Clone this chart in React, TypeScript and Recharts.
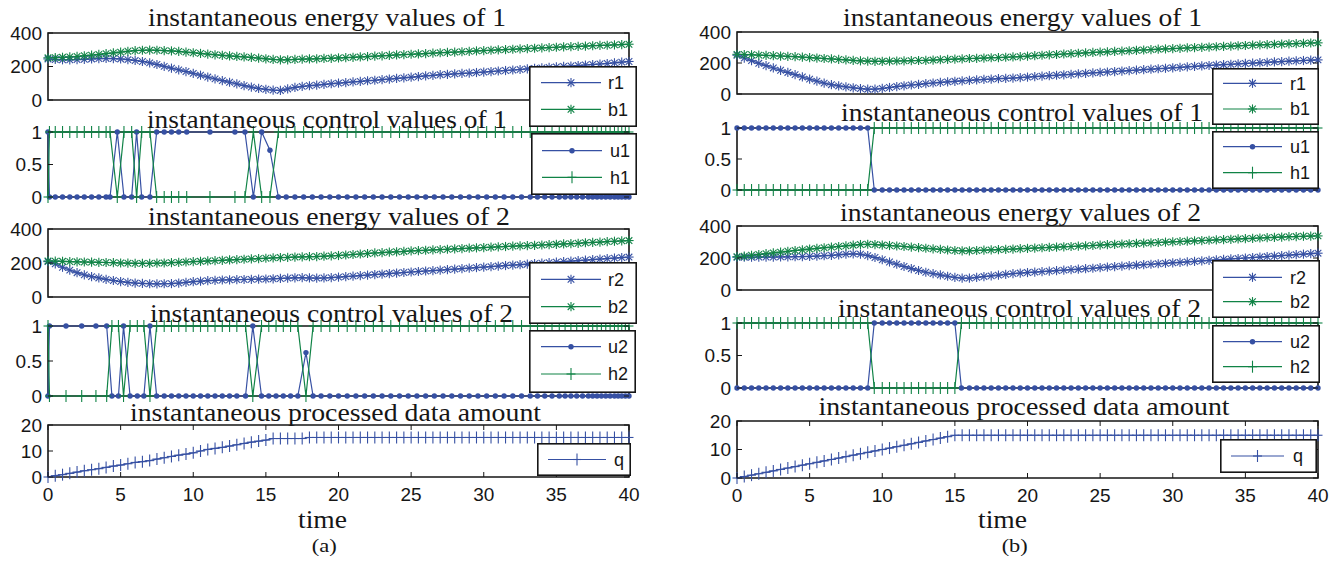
import React from 'react';
import { LineChart, Line, XAxis, YAxis, ReferenceArea } from 'recharts';

const BLUE = '#3650a3';
const GREEN = '#108346';
const INK = '#161616';
const SANS = '"Liberation Sans", Arial, Helvetica, sans-serif';
const SERIF = '"Liberation Serif", "Times New Roman", serif';

// ---------- time axis for energy / data amount panels ----------
const ET = [
  0, 0.5, 1, 1.5, 2, 2.5, 3, 3.5, 4, 4.5,
  5, 5.5, 6, 6.5, 7, 7.5, 8, 8.5, 9, 9.5,
  10, 10.5, 11, 11.5, 12, 12.5, 13, 13.5, 14, 14.5,
  15, 15.5, 16, 16.5, 17, 17.5, 18, 18.5, 19, 19.5,
  20, 20.5, 21, 21.5, 22, 22.5, 23, 23.5, 24, 24.5,
  25, 25.5, 26, 26.5, 27, 27.5, 28, 28.5, 29, 29.5,
  30, 30.5, 31, 31.5, 32, 32.5, 33, 33.5, 34, 34.5,
  35, 35.5, 36, 36.5, 37, 37.5, 38, 38.5, 39, 39.5,
  40,
];

// ---------- (a) energy of 1 ----------
const A_R1 = [
  245, 242, 240, 240, 241, 243, 245, 247, 248, 247,
  245, 241, 236, 230, 222, 212, 201, 190, 180, 170,
  159, 148, 137, 126, 116, 106, 96, 86, 77, 69,
  64, 59, 57, 66, 75, 81, 85, 89, 93, 97,
  101, 104, 108, 111, 115, 118, 122, 125, 129, 132,
  136, 140, 144, 147, 151, 153, 156, 159, 161, 164,
  167, 170, 173, 176, 179, 182, 186, 189, 192, 195,
  198, 201, 203, 206, 209, 212, 215, 218, 222, 226,
  230,
];
const A_B1 = [
  252, 253, 255, 257, 260, 264, 268, 272, 277, 281,
  286, 291, 295, 297, 298, 297, 295, 293, 290, 286,
  282, 278, 274, 270, 267, 263, 260, 257, 254, 250,
  246, 242, 240, 240, 242, 244, 245, 246, 248, 249,
  251, 253, 255, 257, 259, 262, 264, 266, 269, 271,
  273, 275, 277, 280, 282, 284, 286, 288, 290, 293,
  295, 297, 299, 301, 303, 305, 307, 309, 311, 313,
  315, 317, 319, 320, 322, 324, 326, 327, 329, 331,
  333,
];
// ---------- (a) energy of 2 ----------
const A_R2 = [
  208, 195, 175, 158, 143, 130, 120, 112, 104, 97,
  91, 86, 82, 80, 78, 77, 78, 79, 82, 86,
  90, 93, 96, 98, 100, 101, 102, 103, 104, 105,
  106, 107, 109, 111, 113, 114, 112, 111, 112, 114,
  117, 120, 123, 126, 129, 132, 135, 138, 141, 144,
  147, 150, 153, 155, 158, 161, 164, 167, 170, 173,
  176, 179, 182, 185, 188, 190, 193, 196, 199, 202,
  205, 208, 211, 214, 217, 220, 223, 226, 229, 232,
  235,
];
const A_B2 = [
  212, 211, 210, 208, 207, 206, 205, 204, 203, 202,
  200, 199, 198, 198, 198, 199, 200, 202, 204, 206,
  208, 210, 212, 214, 216, 218, 220, 222, 224, 226,
  228, 230, 232, 233, 235, 236, 237, 238, 240, 242,
  244, 247, 250, 253, 256, 259, 261, 264, 266, 268,
  271, 273, 275, 277, 279, 281, 283, 285, 287, 289,
  291, 293, 295, 297, 299, 301, 302, 304, 306, 308,
  310, 312, 314, 316, 319, 321, 323, 326, 328, 330,
  332,
];
// ---------- (a) control of 1 ----------
const A_C1T = [
  0, 0.1, 0.5, 1, 1.5, 2, 2.5, 3, 3.5, 4,
  4.27, 4.77, 5.23, 5.76, 6.1, 6.45, 7.02, 7.48, 8, 8.5,
  9, 9.55, 11.15, 12.87, 13.56, 14.14, 14.71, 15.28, 15.86, 16.4,
  17, 17.6, 18.2, 18.8, 19.4, 20, 20.6, 21.2, 21.8, 22.4,
  23, 23.6, 24.2, 24.8, 25.4, 26, 26.6, 27.2, 27.8, 28.4,
  29, 29.6, 30.2, 30.8, 31.4, 32, 32.6, 33.2, 33.7, 34.2,
  34.7, 35.2, 35.6, 36, 36.4, 36.8, 37.2, 37.5, 37.8, 38.1,
  38.4, 38.7, 39, 39.25, 39.5, 39.75, 40,
];
const A_U1 = [
  1, 0, 0, 0, 0, 0, 0, 0, 0, 0,
  0, 1, 0, 0, 1, 0, 0, 1, 1, 1,
  1, 1, 1, 1, 1, 0, 1, 0.72, 0, 0,
  0, 0, 0, 0, 0, 0, 0, 0, 0, 0,
  0, 0, 0, 0, 0, 0, 0, 0, 0, 0,
  0, 0, 0, 0, 0, 0, 0, 0, 0, 0,
  0, 0, 0, 0, 0, 0, 0, 0, 0, 0,
  0, 0, 0, 0, 0, 0, 0,
];
const A_H1 = [
  0, 1, 1, 1, 1, 1, 1, 1, 1, 1,
  1, 0, 1, 1, 0, 1, 1, 0, 0, 0,
  0, 0, 0, 0, 0, 1, 0, 0, 1, 1,
  1, 1, 1, 1, 1, 1, 1, 1, 1, 1,
  1, 1, 1, 1, 1, 1, 1, 1, 1, 1,
  1, 1, 1, 1, 1, 1, 1, 1, 1, 1,
  1, 1, 1, 1, 1, 1, 1, 1, 1, 1,
  1, 1, 1, 1, 1, 1, 1,
];
// ---------- (a) control of 2 ----------
const A_C2T = [
  0, 0.1, 1.24, 2.32, 3.3, 4.04, 4.4, 4.85, 5.2, 5.65,
  6.15, 6.6, 7.02, 7.48, 8, 8.5, 9, 9.5, 10, 10.5,
  11, 11.5, 12, 12.5, 13, 13.6, 14.1, 14.7, 15.2, 15.7,
  16.2, 16.7, 17.2, 17.76, 18.25, 18.8, 19.4, 20, 20.6, 21.2,
  21.8, 22.4, 23, 23.6, 24.2, 24.8, 25.4, 26, 26.6, 27.2,
  27.8, 28.4, 29, 29.6, 30.2, 30.8, 31.4, 32, 32.6, 33.2,
  33.7, 34.2, 34.7, 35.2, 35.6, 36, 36.4, 36.8, 37.2, 37.5,
  37.8, 38.1, 38.4, 38.7, 39, 39.25, 39.5, 39.75, 40,
];
const A_U2 = [
  0, 1, 1, 1, 1, 1, 0, 0, 1, 0,
  0, 0, 1, 0, 0, 0, 0, 0, 0, 0,
  0, 0, 0, 0, 0, 0, 1, 0, 0, 0,
  0, 0, 0, 0.62, 0, 0, 0, 0, 0, 0,
  0, 0, 0, 0, 0, 0, 0, 0, 0, 0,
  0, 0, 0, 0, 0, 0, 0, 0, 0, 0,
  0, 0, 0, 0, 0, 0, 0, 0, 0, 0,
  0, 0, 0, 0, 0, 0, 0, 0, 0,
];
const A_H2 = [
  1, 0, 0, 0, 0, 0, 1, 1, 0, 1,
  1, 1, 0, 1, 1, 1, 1, 1, 1, 1,
  1, 1, 1, 1, 1, 1, 0, 1, 1, 1,
  1, 1, 1, 0, 1, 1, 1, 1, 1, 1,
  1, 1, 1, 1, 1, 1, 1, 1, 1, 1,
  1, 1, 1, 1, 1, 1, 1, 1, 1, 1,
  1, 1, 1, 1, 1, 1, 1, 1, 1, 1,
  1, 1, 1, 1, 1, 1, 1, 1, 1,
];
// ---------- (a) processed data ----------
const A_Q = [
  0, 0.5, 0.9, 1.4, 1.9, 2.4, 2.8, 3.2, 3.7, 4.2,
  4.6, 5.1, 5.6, 5.9, 6.3, 6.9, 7.4, 7.9, 8.4, 8.8,
  9.3, 10.0, 10.6, 11.0, 11.4, 11.9, 12.4, 12.9, 13.4, 13.8,
  14.2, 14.8, 14.8, 14.8, 14.8, 14.8, 15.2, 15.2, 15.2, 15.2,
  15.2, 15.2, 15.2, 15.2, 15.2, 15.2, 15.2, 15.2, 15.2, 15.2,
  15.2, 15.2, 15.2, 15.2, 15.2, 15.2, 15.2, 15.2, 15.2, 15.2,
  15.2, 15.2, 15.2, 15.2, 15.2, 15.2, 15.2, 15.2, 15.2, 15.2,
  15.2, 15.2, 15.2, 15.2, 15.2, 15.2, 15.2, 15.2, 15.2, 15.2,
  15.2,
];

// ---------- (b) energy of 1 ----------
const B_R1 = [
  250, 232, 215, 198, 183, 168, 153, 139, 125, 110,
  96, 83, 70, 60, 52, 46, 40, 35, 31, 31,
  36, 42, 48, 53, 58, 62, 67, 71, 75, 78,
  82, 85, 88, 91, 94, 96, 99, 101, 103, 106,
  109, 112, 115, 118, 121, 124, 127, 130, 133, 136,
  139, 142, 145, 148, 151, 154, 157, 160, 163, 166,
  169, 172, 175, 178, 181, 184, 187, 189, 192, 194,
  197, 199, 202, 204, 207, 209, 212, 214, 216, 218,
  220,
];
const B_B1 = [
  256, 255, 253, 251, 249, 247, 245, 243, 241, 238,
  235, 232, 229, 226, 223, 220, 217, 214, 212, 211,
  211, 212, 213, 214, 215, 216, 217, 219, 221, 223,
  225, 227, 229, 230, 232, 234, 235, 237, 239, 241,
  244, 247, 250, 253, 255, 258, 260, 263, 265, 268,
  270, 272, 275, 277, 279, 282, 284, 286, 289, 291,
  293, 295, 297, 299, 301, 303, 305, 307, 309, 311,
  313, 315, 317, 318, 320, 322, 324, 325, 327, 329,
  330,
];
// ---------- (b) energy of 2 ----------
const B_R2 = [
  205, 205, 205, 206, 206, 206, 207, 207, 208, 209,
  210, 212, 214, 217, 220, 224, 226, 224, 215, 203,
  189, 175, 161, 147, 134, 122, 111, 102, 94, 86,
  79, 74, 74, 79, 84, 88, 93, 98, 102, 106,
  109, 112, 115, 118, 121, 124, 127, 130, 133, 136,
  140, 143, 146, 149, 152, 155, 158, 161, 164, 167,
  170, 173, 176, 179, 182, 185, 188, 191, 194, 197,
  200, 203, 206, 209, 212, 215, 218, 221, 224, 227,
  230,
];
const B_B2 = [
  208, 212, 217, 222, 227, 232, 237, 242, 247, 251,
  256, 260, 264, 268, 272, 276, 280, 284, 286, 284,
  281, 278, 275, 272, 268, 265, 261, 257, 254, 250,
  247, 245, 245, 247, 249, 251, 252, 254, 256, 258,
  260, 262, 264, 266, 268, 270, 272, 274, 276, 278,
  281, 283, 285, 287, 289, 291, 293, 295, 297, 299,
  301, 303, 305, 307, 309, 311, 313, 315, 317, 319,
  321, 323, 325, 327, 329, 331, 333, 334, 336, 337,
  338,
];
// ---------- (b) control of 1 ----------
const B_C1T = [
  0, 0.5, 1, 1.5, 2, 2.5, 3, 3.5, 4, 4.5,
  5, 5.5, 6, 6.5, 7, 7.5, 8, 8.5, 9, 9.45,
  10, 10.5, 11, 11.5, 12, 12.5, 13, 13.5, 14, 14.5,
  15, 15.5, 16, 16.5, 17, 17.5, 18, 18.5, 19, 19.5,
  20, 20.5, 21, 21.5, 22, 22.5, 23, 23.5, 24, 24.5,
  25, 25.5, 26, 26.5, 27, 27.5, 28, 28.5, 29, 29.5,
  30, 30.5, 31, 31.5, 32, 32.5, 33, 33.5, 34, 34.5,
  35, 35.5, 36, 36.5, 37, 37.5, 38, 38.5, 39, 39.5,
  40,
];
const B_U1 = [
  1, 1, 1, 1, 1, 1, 1, 1, 1, 1,
  1, 1, 1, 1, 1, 1, 1, 1, 1, 0,
  0, 0, 0, 0, 0, 0, 0, 0, 0, 0,
  0, 0, 0, 0, 0, 0, 0, 0, 0, 0,
  0, 0, 0, 0, 0, 0, 0, 0, 0, 0,
  0, 0, 0, 0, 0, 0, 0, 0, 0, 0,
  0, 0, 0, 0, 0, 0, 0, 0, 0, 0,
  0, 0, 0, 0, 0, 0, 0, 0, 0, 0,
  0,
];
const B_H1 = [
  0, 0, 0, 0, 0, 0, 0, 0, 0, 0,
  0, 0, 0, 0, 0, 0, 0, 0, 0, 1,
  1, 1, 1, 1, 1, 1, 1, 1, 1, 1,
  1, 1, 1, 1, 1, 1, 1, 1, 1, 1,
  1, 1, 1, 1, 1, 1, 1, 1, 1, 1,
  1, 1, 1, 1, 1, 1, 1, 1, 1, 1,
  1, 1, 1, 1, 1, 1, 1, 1, 1, 1,
  1, 1, 1, 1, 1, 1, 1, 1, 1, 1,
  1,
];
// ---------- (b) control of 2 ----------
const B_C2T = [
  0, 0.5, 1, 1.5, 2, 2.5, 3, 3.5, 4, 4.5,
  5, 5.5, 6, 6.5, 7, 7.5, 8, 8.5, 9, 9.45,
  10, 10.5, 11, 11.5, 12, 12.5, 13, 13.5, 14, 14.5,
  15, 15.45, 16, 16.5, 17, 17.5, 18, 18.5, 19, 19.5,
  20, 20.5, 21, 21.5, 22, 22.5, 23, 23.5, 24, 24.5,
  25, 25.5, 26, 26.5, 27, 27.5, 28, 28.5, 29, 29.5,
  30, 30.5, 31, 31.5, 32, 32.5, 33, 33.5, 34, 34.5,
  35, 35.5, 36, 36.5, 37, 37.5, 38, 38.5, 39, 39.5,
  40,
];
const B_U2 = [
  0, 0, 0, 0, 0, 0, 0, 0, 0, 0,
  0, 0, 0, 0, 0, 0, 0, 0, 0, 1,
  1, 1, 1, 1, 1, 1, 1, 1, 1, 1,
  1, 0, 0, 0, 0, 0, 0, 0, 0, 0,
  0, 0, 0, 0, 0, 0, 0, 0, 0, 0,
  0, 0, 0, 0, 0, 0, 0, 0, 0, 0,
  0, 0, 0, 0, 0, 0, 0, 0, 0, 0,
  0, 0, 0, 0, 0, 0, 0, 0, 0, 0,
  0,
];
const B_H2 = [
  1, 1, 1, 1, 1, 1, 1, 1, 1, 1,
  1, 1, 1, 1, 1, 1, 1, 1, 1, 0,
  0, 0, 0, 0, 0, 0, 0, 0, 0, 0,
  0, 1, 1, 1, 1, 1, 1, 1, 1, 1,
  1, 1, 1, 1, 1, 1, 1, 1, 1, 1,
  1, 1, 1, 1, 1, 1, 1, 1, 1, 1,
  1, 1, 1, 1, 1, 1, 1, 1, 1, 1,
  1, 1, 1, 1, 1, 1, 1, 1, 1, 1,
  1,
];
// ---------- (b) processed data ----------
const B_Q = [
  0, 0.5, 1, 1.5, 2, 2.5, 3, 3.5, 4, 4.5,
  5, 5.5, 6, 6.5, 7, 7.5, 8, 8.5, 9, 9.5,
  10, 10.5, 11, 11.5, 12, 12.5, 13, 13.5, 14, 14.5,
  15, 15, 15, 15, 15, 15, 15, 15, 15, 15,
  15, 15, 15, 15, 15, 15, 15, 15, 15, 15,
  15, 15, 15, 15, 15, 15, 15, 15, 15, 15,
  15, 15, 15, 15, 15, 15, 15, 15, 15, 15,
  15, 15, 15, 15, 15, 15, 15, 15, 15, 15,
  15,
];

// ---------- axes ----------
const X_TICKS = [0, 5, 10, 15, 20, 25, 30, 35, 40];
const E_TICKS = [0, 200, 400];
const C_TICKS = [0, 0.5, 1];
const Q_TICKS = [0, 10, 20];

const TITLES_A = [
  'instantaneous energy values of 1',
  'instantaneous control values of 1',
  'instantaneous energy values of 2',
  'instantaneous control values of 2',
  'instantaneous processed data amount',
];
const TITLES_B = TITLES_A;

function rowsOf(t: number[], cols: Record<string, number[]>) {
  return t.map((tv, i) => {
    const r: any = { t: tv };
    Object.keys(cols).forEach((k) => {
      const v = cols[k][i];
      r[k] = v === undefined ? null : v;
    });
    return r;
  });
}

// ---------- geometry ----------
const PAD = 10;
const XH = 40;
const COLS: any = {
  L: { left: 0, width: 671, yw: 48, mr: 42 },
  R: { left: 671, width: 672, yw: 66, mr: 25 },
};
const TICK_FS = 19;
const LINE_W = 1.2;

function Marker({ kind, cx, cy, color }: any) {
  if (kind === 'dot') return <circle cx={cx} cy={cy} r={2.7} fill={color} stroke="none" />;
  if (kind === 'plus')
    return (
      <g stroke={color} strokeWidth={1.1}>
        <line x1={cx - 4.5} x2={cx + 4.5} y1={cy} y2={cy} />
        <line x1={cx} x2={cx} y1={cy - 6} y2={cy + 6} />
      </g>
    );
  const r = 4.6;
  const d = 3.3;
  return (
    <g stroke={color} strokeWidth={1.1}>
      <line x1={cx - r} x2={cx + r} y1={cy} y2={cy} />
      <line x1={cx} x2={cx} y1={cy - r} y2={cy + r} />
      <line x1={cx - d} x2={cx + d} y1={cy - d} y2={cy + d} />
      <line x1={cx - d} x2={cx + d} y1={cy + d} y2={cy - d} />
    </g>
  );
}

function markerFn(kind: string, color: string) {
  return (p: any) => {
    const { cx, cy, index } = p;
    const k = `m${index}`;
    if (cx == null || cy == null || Number.isNaN(cy)) return <g key={k} />;
    return <Marker key={k} kind={kind} cx={cx} cy={cy} color={color} />;
  };
}

function yTick(PL: number, PR: number) {
  return (p: any) => {
    const { y, payload, index } = p;
    return (
      <g key={`yt${index}`}>
        <text x={PL - 6} y={y} dy="0.36em" textAnchor="end" fontFamily={SANS} fontSize={TICK_FS} fill={INK}>
          {payload.value}
        </text>
        <line x1={PL} x2={PL + 5} y1={y} y2={y} stroke={INK} strokeWidth={1} />
        <line x1={PR - 5} x2={PR} y1={y} y2={y} stroke={INK} strokeWidth={1} />
      </g>
    );
  };
}

function xTick(pTop: number, pBot: number) {
  return (p: any) => {
    const { x, payload, index } = p;
    return (
      <g key={`xt${index}`}>
        <text x={x} y={pBot + 17.5} dy="0.36em" textAnchor="middle" fontFamily={SANS} fontSize={TICK_FS} fill={INK}>
          {payload.value}
        </text>
        <line x1={x} x2={x} y1={pBot - 5} y2={pBot} stroke={INK} strokeWidth={1} />
        <line x1={x} x2={x} y1={pTop} y2={pTop + 5} stroke={INK} strokeWidth={1} />
      </g>
    );
  };
}

function Panel({ col, top, plotH, rows, dom, ticks, series, bottom }: any) {
  const c = COLS[col];
  const PL = c.yw;
  const PR = c.width - c.mr;
  const height = PAD + plotH + (bottom ? XH : PAD);
  return (
    <div style={{ position: 'absolute', left: c.left, top: top - PAD, width: c.width, height }}>
      <LineChart
        width={c.width}
        height={height}
        data={rows}
        margin={{ top: PAD, right: c.mr, bottom: bottom ? 0 : PAD, left: 0 }}
      >
        {bottom ? (
          <XAxis
            type="number"
            dataKey="t"
            domain={[0, 40]}
            ticks={X_TICKS}
            interval={0}
            height={XH}
            axisLine={false}
            tickLine={false}
            tick={xTick(PAD, PAD + plotH)}
          />
        ) : (
          <XAxis type="number" dataKey="t" domain={[0, 40]} hide />
        )}
        <YAxis
          type="number"
          domain={dom}
          ticks={ticks}
          interval={0}
          width={c.yw}
          axisLine={false}
          tickLine={false}
          tick={yTick(PL, PR)}
        />
        <ReferenceArea x1={0} x2={40} y1={dom[0]} y2={dom[1]} fill="none" stroke={INK} strokeWidth={1.6} />
        {series.map((s: any) => (
          <Line
            key={s.key}
            type="linear"
            dataKey={s.key}
            stroke={s.color}
            strokeWidth={LINE_W}
            dot={markerFn(s.marker, s.color)}
            activeDot={false}
            isAnimationActive={false}
          />
        ))}
      </LineChart>
    </div>
  );
}

function LegendBox({ x, y, w, h, items, lx1, lx2, tx }: any) {
  return (
    <svg
      width={w}
      height={h}
      style={{ position: 'absolute', left: x, top: y, overflow: 'visible' }}
    >
      <rect x={0.8} y={0.8} width={w - 1.6} height={h - 1.6} fill="#fff" stroke={INK} strokeWidth={1.6} />
      {items.map((it: any) => {
        const cy = it.y - y;
        const a = lx1 - x;
        const b = lx2 - x;
        return (
          <g key={it.label}>
            <line x1={a} x2={b} y1={cy} y2={cy} stroke={it.color} strokeWidth={LINE_W} />
            <Marker kind={it.marker} cx={(a + b) / 2} cy={cy} color={it.color} />
            <text x={tx - x} y={cy} dy="0.36em" fontFamily={SANS} fontSize={18} fill={INK}>
              {it.label}
            </text>
          </g>
        );
      })}
    </svg>
  );
}

const TITLE_POS = [
  { x: 148, y: 25.5, w: 358, t: TITLES_A[0] },
  { x: 147, y: 128.3, w: 360, t: TITLES_A[1] },
  { x: 148, y: 225, w: 362, t: TITLES_A[2] },
  { x: 150, y: 321.7, w: 363, t: TITLES_A[3] },
  { x: 130, y: 420.7, w: 411, t: TITLES_A[4] },
  { x: 843, y: 26, w: 359, t: TITLES_B[0] },
  { x: 841, y: 120.7, w: 362, t: TITLES_B[1] },
  { x: 840, y: 220.7, w: 361, t: TITLES_B[2] },
  { x: 838, y: 316.7, w: 363, t: TITLES_B[3] },
  { x: 818.5, y: 415, w: 411, t: TITLES_B[4] },
];

export default function App() {
  const aE1 = rowsOf(ET, { r1: A_R1, b1: A_B1 });
  const aC1 = rowsOf(A_C1T, { u1: A_U1, h1: A_H1 });
  const aE2 = rowsOf(ET, { r2: A_R2, b2: A_B2 });
  const aC2 = rowsOf(A_C2T, { u2: A_U2, h2: A_H2 });
  const aQ = rowsOf(ET, { q: A_Q });
  const bE1 = rowsOf(ET, { r1: B_R1, b1: B_B1 });
  const bC1 = rowsOf(B_C1T, { u1: B_U1, h1: B_H1 });
  const bE2 = rowsOf(ET, { r2: B_R2, b2: B_B2 });
  const bC2 = rowsOf(B_C2T, { u2: B_U2, h2: B_H2 });
  const bQ = rowsOf(ET, { q: B_Q });

  const E = [0, 400];
  const C = [0, 1];
  const Q = [0, 20];
  const s = (key: string, color: string, marker: string) => ({ key, color, marker });

  return (
    <div
      style={{
        position: 'absolute',
        left: 0,
        top: 0,
        width: 1343,
        height: 564,
        background: '#fff',
        overflow: 'hidden',
      }}
    >
      {/* column (a) */}
      <Panel col="L" top={33} plotH={67} rows={aE1} dom={E} ticks={E_TICKS}
        series={[s('r1', BLUE, 'star'), s('b1', GREEN, 'star')]} />
      <Panel col="L" top={132} plotH={65} rows={aC1} dom={C} ticks={C_TICKS}
        series={[s('u1', BLUE, 'dot'), s('h1', GREEN, 'plus')]} />
      <Panel col="L" top={229} plotH={68} rows={aE2} dom={E} ticks={E_TICKS}
        series={[s('r2', BLUE, 'star'), s('b2', GREEN, 'star')]} />
      <Panel col="L" top={326} plotH={70} rows={aC2} dom={C} ticks={C_TICKS}
        series={[s('u2', BLUE, 'dot'), s('h2', GREEN, 'plus')]} />
      <Panel col="L" top={425} plotH={52} rows={aQ} dom={Q} ticks={Q_TICKS} bottom
        series={[s('q', BLUE, 'plus')]} />

      {/* column (b) */}
      <Panel col="R" top={32} plotH={62} rows={bE1} dom={E} ticks={E_TICKS}
        series={[s('r1', BLUE, 'star'), s('b1', GREEN, 'star')]} />
      <Panel col="R" top={128} plotH={62} rows={bC1} dom={C} ticks={C_TICKS}
        series={[s('u1', BLUE, 'dot'), s('h1', GREEN, 'plus')]} />
      <Panel col="R" top={226} plotH={64} rows={bE2} dom={E} ticks={E_TICKS}
        series={[s('r2', BLUE, 'star'), s('b2', GREEN, 'star')]} />
      <Panel col="R" top={323} plotH={65} rows={bC2} dom={C} ticks={C_TICKS}
        series={[s('u2', BLUE, 'dot'), s('h2', GREEN, 'plus')]} />
      <Panel col="R" top={421} plotH={57} rows={bQ} dom={Q} ticks={Q_TICKS} bottom
        series={[s('q', BLUE, 'plus')]} />

      {/* titles and captions */}
      <svg width={1343} height={564} style={{ position: 'absolute', left: 0, top: 0, pointerEvents: 'none' }}>
        {TITLE_POS.map((p) => (
          <text key={`${p.x}-${p.y}`} x={p.x} y={p.y} fontFamily={SERIF} fontSize={25} fill={INK}
            textLength={p.w} lengthAdjust="spacingAndGlyphs">
            {p.t}
          </text>
        ))}
        <text x={298} y={527.7} fontFamily={SERIF} fontSize={26} fill={INK} textLength={49} lengthAdjust="spacingAndGlyphs">time</text>
        <text x={978} y={527.7} fontFamily={SERIF} fontSize={26} fill={INK} textLength={49} lengthAdjust="spacingAndGlyphs">time</text>
        <text x={311.7} y={552} fontFamily={SERIF} fontSize={19} fill={INK} textLength={25} lengthAdjust="spacingAndGlyphs">(a)</text>
        <text x={1001.7} y={552} fontFamily={SERIF} fontSize={19} fill={INK} textLength={26} lengthAdjust="spacingAndGlyphs">(b)</text>
      </svg>

      {/* legends (a) */}
      <LegendBox x={529} y={66} w={108} h={61} lx1={541} lx2={601} tx={608}
        items={[{ label: 'r1', color: BLUE, marker: 'star', y: 82.7 }, { label: 'b1', color: GREEN, marker: 'star', y: 109.3 }]} />
      <LegendBox x={531} y={133} w={106} h={62} lx1={542} lx2={602} tx={610}
        items={[{ label: 'u1', color: BLUE, marker: 'dot', y: 150.7 }, { label: 'h1', color: GREEN, marker: 'plus', y: 177.3 }]} />
      <LegendBox x={529} y={262} w={108} h={62} lx1={541} lx2={601} tx={608}
        items={[{ label: 'r2', color: BLUE, marker: 'star', y: 279.3 }, { label: 'b2', color: GREEN, marker: 'star', y: 306.7 }]} />
      <LegendBox x={529} y={330} w={107} h={63} lx1={541} lx2={601} tx={608}
        items={[{ label: 'u2', color: BLUE, marker: 'dot', y: 346.7 }, { label: 'h2', color: GREEN, marker: 'plus', y: 374 }]} />
      <LegendBox x={537} y={443} w={94} h={33} lx1={548} lx2={606} tx={614}
        items={[{ label: 'q', color: BLUE, marker: 'plus', y: 459.5 }]} />

      {/* legends (b) */}
      <LegendBox x={1212} y={68} w={107} h={57} lx1={1223} lx2={1282} tx={1290}
        items={[{ label: 'r1', color: BLUE, marker: 'star', y: 83.3 }, { label: 'b1', color: GREEN, marker: 'star', y: 109 }]} />
      <LegendBox x={1212} y={131} w={107} h={58} lx1={1223} lx2={1282} tx={1290}
        items={[{ label: 'u1', color: BLUE, marker: 'dot', y: 146.7 }, { label: 'h1', color: GREEN, marker: 'plus', y: 172.7 }]} />
      <LegendBox x={1212} y={260} w={108} h={58} lx1={1223} lx2={1282} tx={1290}
        items={[{ label: 'r2', color: BLUE, marker: 'star', y: 277.3 }, { label: 'b2', color: GREEN, marker: 'star', y: 301.7 }]} />
      <LegendBox x={1212} y={325} w={108} h={58} lx1={1223} lx2={1282} tx={1290}
        items={[{ label: 'u2', color: BLUE, marker: 'dot', y: 341.7 }, { label: 'h2', color: GREEN, marker: 'plus', y: 366.7 }]} />
      <LegendBox x={1220} y={439} w={97} h={34} lx1={1231} lx2={1284} tx={1293}
        items={[{ label: 'q', color: BLUE, marker: 'plus', y: 456 }]} />
    </div>
  );
}
